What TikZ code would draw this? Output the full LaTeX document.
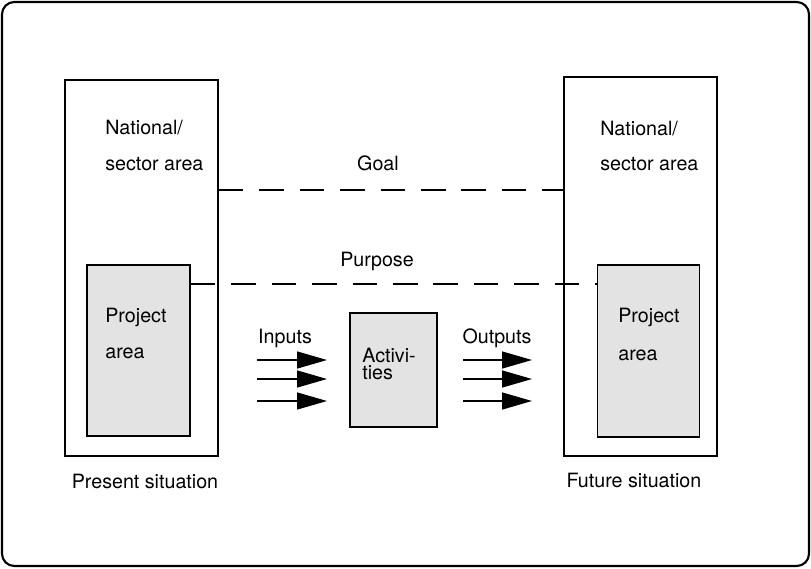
\documentclass[tikz,border=0pt]{standalone}
\usepackage{fontspec}
\setmainfont{TeX Gyre Heros}
\usepackage{tikz}
\usetikzlibrary{arrows.meta}

\tikzset{
  areabox/.style={draw, line width=1pt, inner sep=0pt},
  shadebox/.style={areabox, fill=black!11},
  txt/.style={inner sep=0pt, font=\fontsize{11.2}{13}\selectfont},
  linkline/.style={line width=1pt, dash pattern=on 14pt off 9pt},
  flow/.style={line width=0.8pt, -{Triangle[length=0.6cm,width=0.34cm]}}
}

\begin{document}
\begin{tikzpicture}[x=0.02cm, y=-0.02cm]
                \useasboundingbox (0,0) rectangle (811,568);
                \draw[line width=1.2pt, rounded corners=7pt] (2,2) rectangle (809,566);

                % present situation
                \node[areabox, minimum width=3.06cm, minimum height=7.52cm] (lnat) at (141.5,268) {};
                \node[shadebox, minimum width=2.06cm, minimum height=3.42cm] (lproj) at (138.5,350.5) {};
                \node[txt, anchor=base west] (lnat1) at (105,134) {National/};
                \node[txt, anchor=base west] (lnat2) at (105,170) {sector area};
                \node[txt, anchor=base west] (lproj1) at (105,322) {Project};
                \node[txt, anchor=base west] (lproj2) at (105,358) {area};
                \node[txt, anchor=base] (present) at (145,488) {Present situation};

                % future situation
                \node[areabox, minimum width=3.06cm, minimum height=7.58cm] (rnat) at (640.5,266.5) {};
                \node[shadebox, minimum width=2.04cm, minimum height=3.44cm] (rproj) at (648.5,351) {};
                \node[txt, anchor=base west] (rnat1) at (600,135) {National/};
                \node[txt, anchor=base west] (rnat2) at (600,170) {sector area};
                \node[txt, anchor=base west] (rproj1) at (618,322) {Project};
                \node[txt, anchor=base west] (rproj2) at (618,360) {area};
                \node[txt, anchor=base] (future) at (634,487) {Future situation};

                % goal and purpose
                \node[txt, anchor=base] (goal) at (378,170) {Goal};
                \node[txt, anchor=base] (purpose) at (377,266) {Purpose};
                \draw[linkline] (lnat.east |- 0,190) -- (rnat.west |- 0,190);
                \draw[linkline] (lproj.east |- 0,284) -- (rproj.west |- 0,284);

                % activities
                \node[shadebox, minimum width=1.74cm, minimum height=2.28cm] (act) at (393.5,370) {};
                \node[txt, anchor=base west] (act1) at (362,362) {Activi-};
                \node[txt, anchor=base west] (act2) at (362,379) {ties};

                \node[txt, anchor=base] (inputs) at (285,343) {Inputs};
                \node[txt, anchor=base] (outputs) at (497,343) {Outputs};

                \coordinate (in1a) at (257,360);  \coordinate (in1b) at (327,360);
                \coordinate (in2a) at (257,379);  \coordinate (in2b) at (327,379);
                \coordinate (in3a) at (257,401);  \coordinate (in3b) at (327,401);
                \coordinate (out1a) at (463,360); \coordinate (out1b) at (532,360);
                \coordinate (out2a) at (463,379); \coordinate (out2b) at (532,379);
                \coordinate (out3a) at (463,401); \coordinate (out3b) at (532,401);

                \draw[flow] (in1a) -- (in1b);
                \draw[flow] (in2a) -- (in2b);
                \draw[flow] (in3a) -- (in3b);
                \draw[flow] (out1a) -- (out1b);
                \draw[flow] (out2a) -- (out2b);
                \draw[flow] (out3a) -- (out3b);
            \end{tikzpicture}
\end{document}
